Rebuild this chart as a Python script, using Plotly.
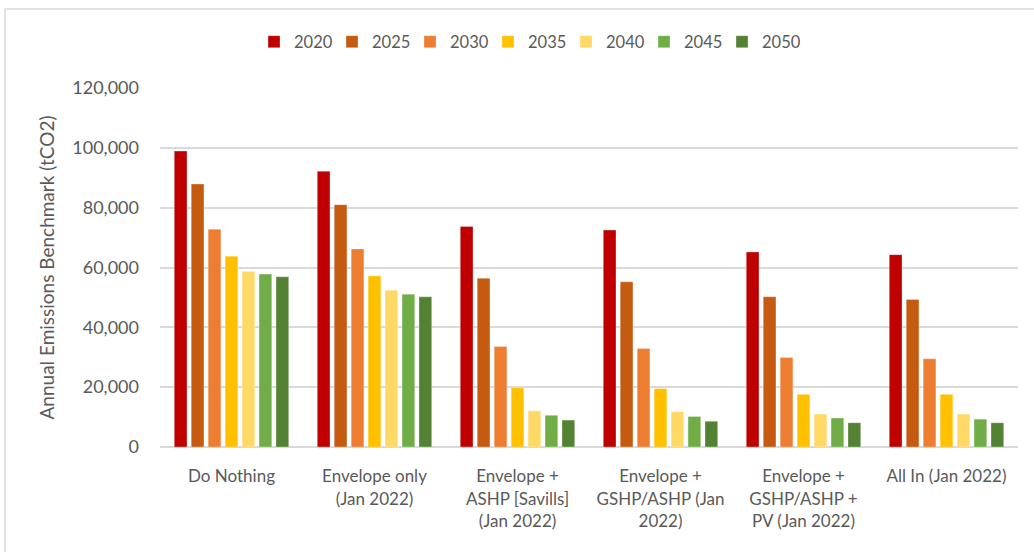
import plotly.graph_objects as go

# --- Data ---
scenarios = [
    "Do Nothing",
    "Envelope only<br>(Jan 2022)",
    "Envelope +<br>ASHP [Savills]<br>(Jan 2022)",
    "Envelope +<br>GSHP/ASHP (Jan<br>2022)",
    "Envelope +<br>GSHP/ASHP +<br>PV (Jan 2022)",
    "All In (Jan 2022)",
]
years = ["2020", "2025", "2030", "2035", "2040", "2045", "2050"]

emissions_2020 = [98900, 92200, 73700, 72500, 65200, 64300]
emissions_2025 = [87900, 81000, 56400, 55200, 50200, 49300]
emissions_2030 = [72800, 66200, 33600, 32900, 29900, 29500]
emissions_2035 = [63800, 57200, 19800, 19500, 17600, 17600]
emissions_2040 = [58700, 52400, 12100, 11800, 11000, 11000]
emissions_2045 = [57800, 51100, 10600, 10200, 9700, 9300]
emissions_2050 = [56900, 50200, 9000, 8600, 8100, 8100]

series = [emissions_2020, emissions_2025, emissions_2030, emissions_2035,
          emissions_2040, emissions_2045, emissions_2050]
colors = ["#C00000", "#C55A11", "#ED7D31", "#FFC000", "#FFD966", "#70AD47", "#548235"]

font_family = "Lato, 'Open Sans', sans-serif"
text_color = "#595959"
grid_color = "#D9D9D9"

fig = go.Figure()
for year, vals, col in zip(years, series, colors):
    fig.add_trace(go.Bar(
        name=year,
        x=scenarios,
        y=vals,
        marker=dict(color=col, line=dict(color="rgba(255,255,255,0.6)", width=0.5)),
    ))

# thin frame round the chart (top and left edges visible in the original)
frame = dict(type="line", xref="paper", yref="paper",
             line=dict(color=grid_color, width=1.5), layer="below")
fig.add_shape(**frame, x0=-0.1807, x1=1.02, y0=1.22, y1=1.22)
fig.add_shape(**frame, x0=-0.1807, x1=-0.1807, y0=1.22, y1=-0.3)

fig.update_layout(
    width=1034,
    height=552,
    barmode="group",
    bargap=0.17,
    bargroupgap=0.25,
    plot_bgcolor="white",
    paper_bgcolor="white",
    font=dict(family=font_family, color=text_color, size=17),
    margin=dict(l=160, r=16, t=88, b=105, autoexpand=False),
    legend=dict(
        orientation="h",
        xref="container", x=0.5097, xanchor="center",
        yref="container", y=0.924, yanchor="middle",
        font=dict(size=16.5, color=text_color),
        entrywidth=33,
        traceorder="normal",
    ),
    yaxis=dict(
        range=[0, 120000],
        dtick=20000,
        tickformat=",",
        showgrid=True,
        gridcolor=grid_color,
        gridwidth=1.5,
        zeroline=True,
        zerolinecolor=grid_color,
        zerolinewidth=1.5,
        ticklabelstandoff=20,
        tickfont=dict(size=18),
        automargin=False,
        title=dict(text="Annual Emissions Benchmark (tCO2)", font=dict(size=19), standoff=12),
    ),
    xaxis=dict(
        showline=False,
        ticks="outside",
        ticklen=14,
        tickcolor="rgba(0,0,0,0)",
        tickfont=dict(size=17),
        automargin=False,
    ),
)

fig.write_html(
    "out.html",
    config={"displayModeBar": False},
    post_script="document.body.style.margin='0';",
)
